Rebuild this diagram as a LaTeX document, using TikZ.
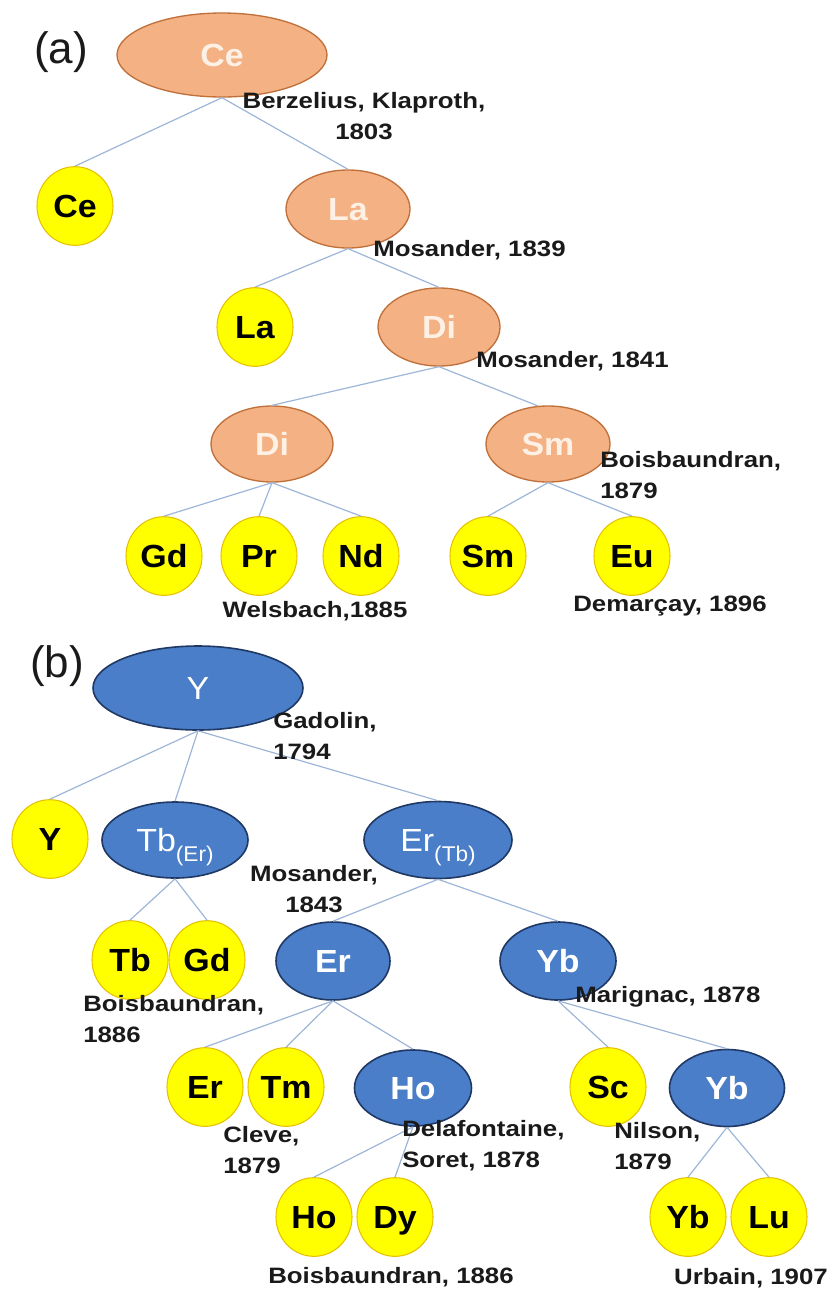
\documentclass[tikz,border=0pt]{standalone}
\usepackage{fontspec}
\setmainfont{Liberation Sans}
\newfontfamily\notefont[FakeStretch=1.16]{Liberation Sans}
\newfontfamily\elemfont[FakeStretch=1.06]{Liberation Sans}
\usetikzlibrary{shapes.geometric}
\definecolor{orfill}{HTML}{F4B183}
\definecolor{ordraw}{HTML}{C0703A}
\definecolor{ortext}{HTML}{FDF0E4}
\definecolor{blfill}{HTML}{4A7EC8}
\definecolor{bldraw}{HTML}{1F3864}
\definecolor{yefill}{HTML}{FFFF00}
\definecolor{yedraw}{HTML}{E5C100}
\definecolor{conn}{HTML}{9DB6D8}
\definecolor{notetext}{HTML}{1A1A1A}
\newcommand{\subtx}[1]{\raisebox{-0.32em}{\fontsize{16}{16}\selectfont #1}}
\tikzset{
  elem/.style={ellipse, inner sep=0pt, text height=17pt, text depth=0pt, font=\elemfont\fontsize{24}{24}\selectfont\bfseries},
  orn/.style={elem, fill=orfill, draw=ordraw, line width=1pt, text=ortext},
  bln/.style={elem, fill=blfill, draw=bldraw, line width=1.2pt, text=white},
  yel/.style={elem, fill=yefill, draw=yedraw, line width=0.8pt, text=black, minimum width=57pt, minimum height=59pt},
  sz/.style 2 args={minimum width=#1, minimum height=#2},
  note/.style={font=\notefont\fontsize{16.7}{23.25}\selectfont\bfseries, inner sep=0pt, text=notetext},
  panel/.style={font=\fontsize{33}{33}\selectfont, inner sep=0pt, text=notetext},
  link/.style={draw=conn, line width=0.9pt}
}
\begin{document}
\begin{tikzpicture}[x=0.75pt,y=-0.75pt]
\useasboundingbox (0,0) rectangle (834,1293);
% ---------- (a) ----------
\node[panel] (pa) at (61,52) {(a)};
\node[orn, sz={157.5pt}{63pt}] (ce0) at (222,55) {Ce};
\node[yel] (ce1) at (75,206) {Ce};
\node[orn, sz={93pt}{58.5pt}] (la0) at (348,209) {La};
\node[yel] (la1) at (255,327) {La};
\node[orn, sz={91.5pt}{58.5pt}] (di0) at (439,327) {Di};
\node[orn, sz={91.5pt}{57pt}] (di1) at (272,444) {Di};
\node[orn, sz={93pt}{57pt}] (sm0) at (548,444) {Sm};
\node[yel] (gd) at (164,556) {Gd};
\node[yel] (pr) at (259,556) {Pr};
\node[yel] (nd) at (361,556) {Nd};
\node[yel] (sm1) at (488,556) {Sm};
\node[yel] (eu) at (632,556) {Eu};
% ---------- (b) ----------
\node[panel] (pb) at (57,666) {(b)};
\node[bln, sz={157.5pt}{63pt}, font=\elemfont\fontsize{24}{24}\selectfont\mdseries] (y0) at (198,688) {Y};
\node[yel] (y1) at (50,839) {Y};
\node[bln, sz={109.5pt}{57pt}, font=\elemfont\fontsize{24}{24}\selectfont\mdseries] (tb0) at (175,840) {Tb\subtx{(Er)}};
\node[bln, sz={111pt}{57.75pt}, font=\elemfont\fontsize{24}{24}\selectfont\mdseries] (er0) at (438,840) {Er\subtx{(Tb)}};
\node[yel] (tb1) at (130,960) {Tb};
\node[yel] (gd1) at (207,960) {Gd};
\node[bln, sz={85.5pt}{58.5pt}] (er1) at (333,961) {Er};
\node[bln, sz={87pt}{58.5pt}] (yb0) at (558,961) {Yb};
\node[yel] (er2) at (205,1087) {Er};
\node[yel] (tm) at (286,1087) {Tm};
\node[bln, sz={87.75pt}{57pt}] (ho0) at (413,1088) {Ho};
\node[yel] (sc) at (608,1087) {Sc};
\node[bln, sz={86.25pt}{57.75pt}] (yb1) at (727,1088) {Yb};
\node[yel] (ho1) at (314,1217) {Ho};
\node[yel] (dy) at (395,1217) {Dy};
\node[yel] (yb2) at (688,1217) {Yb};
\node[yel] (lu) at (769,1217) {Lu};
% ---------- connectors ----------
\draw[link] (ce0.south) -- (ce1.north);
\draw[link] (ce0.south) -- (la0.north);
\draw[link] (la0.south) -- (la1.north);
\draw[link] (la0.south) -- (di0.north);
\draw[link] (di0.south) -- (di1.north);
\draw[link] (di0.south) -- (sm0.105);
\draw[link] (di1.south) -- (gd.north);
\draw[link] (di1.south) -- (pr.north);
\draw[link] (di1.south) -- (nd.north);
\draw[link] (sm0.south) -- (sm1.north);
\draw[link] (sm0.south) -- (eu.north);
\draw[link] (y0.south) -- (y1.north);
\draw[link] (y0.south) -- (tb0.north);
\draw[link] (y0.south) -- (er0.north);
\draw[link] (tb0.south) -- (tb1.north);
\draw[link] (tb0.south) -- (gd1.north);
\draw[link] (er0.south) -- (er1.north);
\draw[link] (er0.south) -- (yb0.north);
\draw[link] (er1.south) -- (er2.north);
\draw[link] (er1.south) -- (tm.north);
\draw[link] (er1.south) -- (ho0.north);
\draw[link] (yb0.south) -- (sc.north);
\draw[link] (yb0.south) -- (yb1.north);
\draw[link] (ho0.south) -- (ho1.north);
\draw[link] (ho0.south) -- (dy.north);
\draw[link] (yb1.south) -- (yb2.north);
\draw[link] (yb1.south) -- (lu.north);
% ---------- annotations ----------
\node[note, align=center] (n1) at (364,116) {Berzelius, Klaproth,\\1803};
\node[note, anchor=west] (n2) at (373,250) {Mosander, 1839};
\node[note, anchor=west] (n3) at (476,361) {Mosander, 1841};
\node[note, align=left, anchor=west] (n4) at (600,475) {Boisbaundran,\\1879};
\node[note] (n5) at (315,611) {Welsbach,1885};
\node[note] (n6) at (670,606) {Demarçay, 1896};
\node[note, align=left, anchor=west] (n7) at (273,736) {Gadolin,\\1794};
\node[note, align=center] (n8) at (314,889) {Mosander,\\1843};
\node[note, align=left, anchor=west] (n9) at (83,1019) {Boisbaundran,\\1886};
\node[note, anchor=west] (n10) at (575,997) {Marignac, 1878};
\node[note, align=left, anchor=west] (n11) at (223,1150) {Cleve,\\1879};
\node[note, align=left, anchor=west] (n12) at (402,1146) {Delafontaine,\\Soret, 1878};
\node[note, align=left, anchor=west] (n13) at (614,1146) {Nilson,\\1879};
\node[note] (n14) at (391,1277) {Boisbaundran, 1886};
\node[note] (n15) at (751,1278) {Urbain, 1907};
\end{tikzpicture}
\end{document}
